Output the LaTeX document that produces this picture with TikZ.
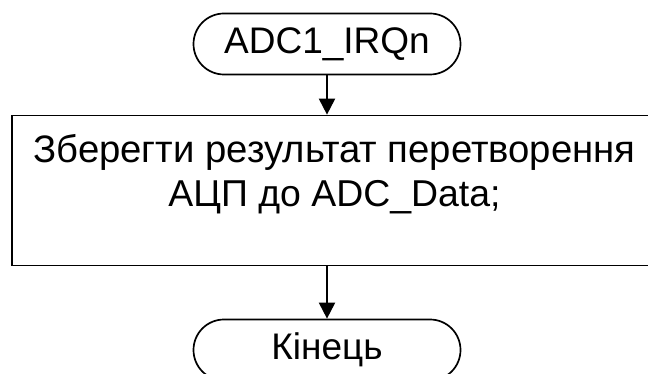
\documentclass[tikz,border=0pt]{standalone}
\usepackage{fontspec}
\setmainfont{Liberation Sans}
\usetikzlibrary{shapes.misc,arrows.meta}
\tikzset{
  term/.style={draw, rounded rectangle, line width=1.7pt,
    minimum width=267pt, minimum height=61pt, inner sep=0pt,
    font=\fontsize{37}{42}\selectfont},
  procbox/.style={draw, rectangle, line width=1.7pt,
    minimum width=648pt, minimum height=150pt, inner sep=0pt},
  boxtext/.style={align=center, inner sep=0pt,
    font=\fontsize{37.5}{44}\selectfont},
  flow/.style={line width=2pt, -{Triangle[length=16pt,width=16pt]}}
}
\begin{document}
\begin{tikzpicture}[x=1pt,y=-1pt]
\useasboundingbox (0,0) rectangle (648,374);
\node[term] (start) at (327,44) {ADC1\_IRQn};
\node[procbox] (save) at (336,190.5) {};
\node[boxtext] (savetext) at (334.5,174)
  {{\fontsize{38.3}{44}\selectfont Зберегти результат перетворення}\\
   {\fontsize{37.4}{44}\selectfont АЦП до ADC\_Data;}};
\node[term] (stop) at (327,350) {Кінець};
\draw[flow] (start.south) -- (start.south |- save.north);
\draw[flow] (stop.north |- save.south) -- (stop.north);
\end{tikzpicture}
\end{document}
